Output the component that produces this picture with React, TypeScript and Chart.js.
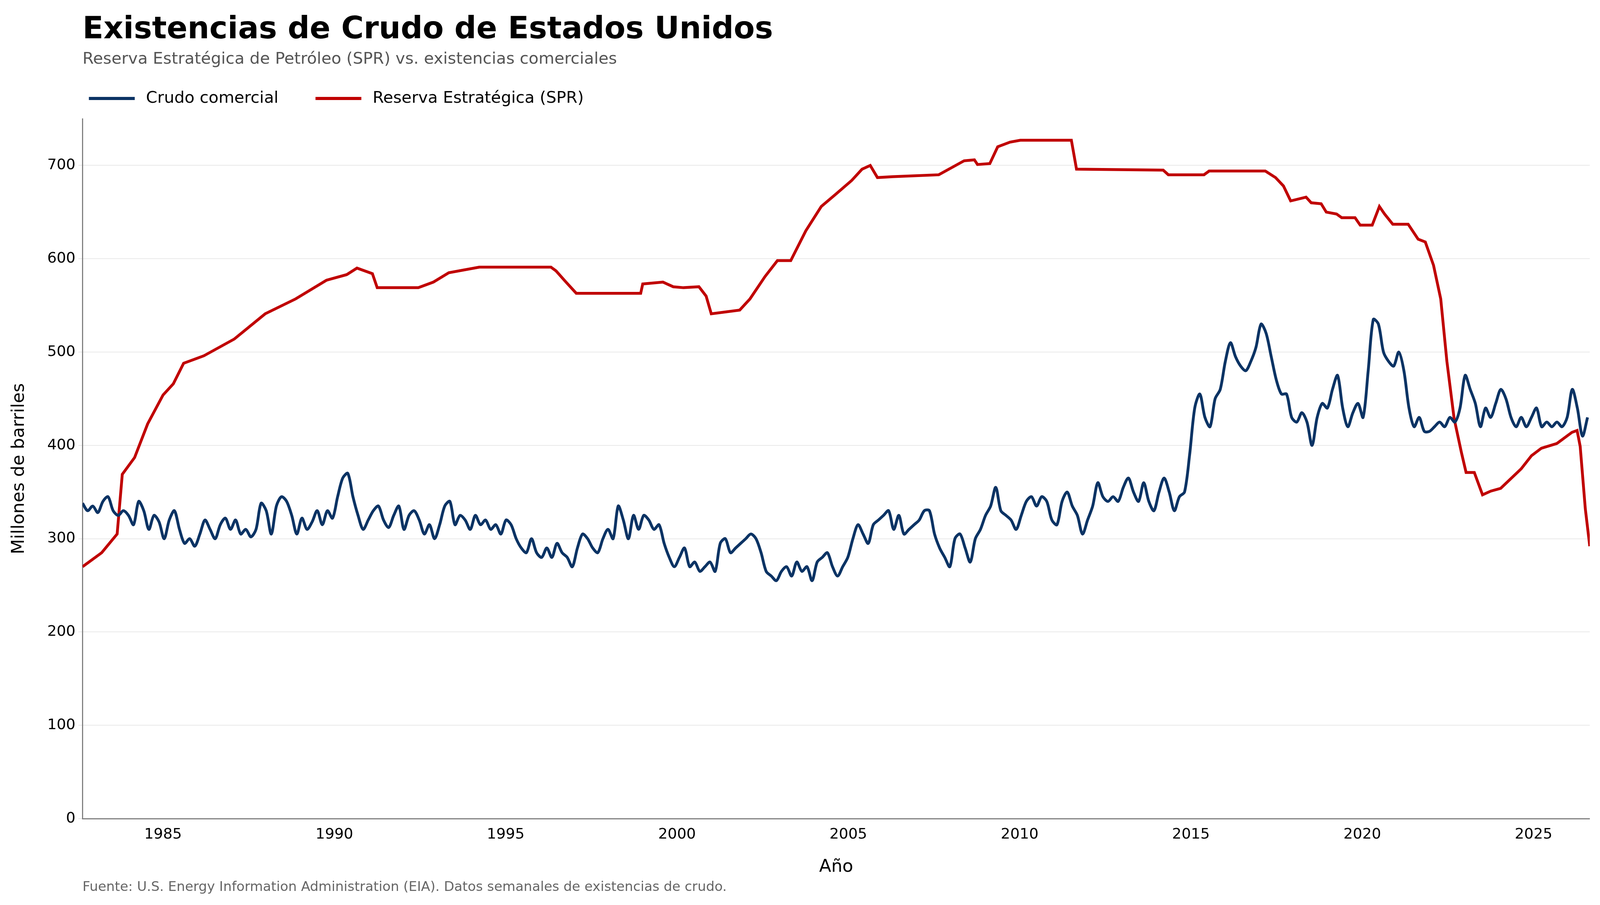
import React, { useEffect, useRef } from "react";
import { Chart, registerables } from "chart.js";
Chart.register(...registerables);

const TITLE = "Existencias de Crudo de Estados Unidos";
const SUBTITLE = "Reserva Estratégica de Petróleo (SPR) vs. existencias comerciales";
const SOURCE = "Fuente: U.S. Energy Information Administration (EIA). Datos semanales de existencias de crudo.";
const SERIES_NAMES = ["Crudo comercial", "Reserva Estratégica (SPR)"];
const X_TICKS = [1985, 1990, 1995, 2000, 2005, 2010, 2015, 2020, 2025];
const Y_TICKS = [0, 100, 200, 300, 400, 500, 600, 700];

const sprYears = [1982.65,1983.21,1983.66,1983.81,1984.17,1984.55,1985,1985.3,1985.6,1986.19,1987.08,1987.98,1988.87,1989.77,1990.36,1990.66,1991.11,1991.25,1992.45,1992.89,1993.34,1994.23,1996.32,1996.47,1996.76,1997.06,1998.94,1999.0,1999.59,1999.89,2000.19,2000.64,2000.85,2001.0,2001.83,2002.13,2002.57,2002.93,2003.32,2003.76,2004.21,2004.66,2005.1,2005.4,2005.64,2005.85,2006.3,2007.64,2008.38,2008.68,2008.77,2009.13,2009.36,2009.72,2010.02,2011.51,2011.66,2014.19,2014.34,2015.38,2015.53,2017.17,2017.47,2017.7,2017.91,2018.36,2018.51,2018.8,2018.95,2019.25,2019.4,2019.79,2019.94,2020.29,2020.5,2020.65,2020.89,2021.34,2021.63,2021.84,2022.08,2022.29,2022.47,2022.68,2022.89,2023.03,2023.27,2023.51,2023.75,2024.04,2024.64,2024.94,2025.23,2025.68,2026.12,2026.27,2026.36,2026.51,2026.64];
const sprValues = [270,285,305,369,387,423,454,466,488,496,514,541,557,577,583,590,584,569,569,575,585,591,591,587,575,563,563,573,575,570,569,570,560,541,545,557,581,598,598,630,656,670,684,696,700,687,688,690,705,706,701,702,720,725,727,727,696,695,690,690,694,694,687,678,662,666,660,659,650,648,644,644,636,636,656,648,637,637,621,618,593,557,490,429,393,371,371,347,351,354,375,389,397,402,414,416,399,332,292];

const commercialStart = 1982.65;
const commercialStep = 0.1489;
const commercialValues = [338,330,335,328,340,345,330,325,330,325,315,340,330,310,325,318,300,320,330,310,295,300,292,305,320,310,300,315,322,310,320,305,310,302,310,338,330,305,335,345,340,325,305,322,310,318,330,315,330,322,345,365,370,345,325,310,320,330,335,320,312,325,335,310,325,330,320,305,315,300,315,335,340,315,325,320,310,325,315,320,310,315,305,320,315,300,290,285,300,285,280,290,280,295,285,280,270,290,305,300,290,285,300,310,300,335,320,300,325,310,325,320,310,315,295,280,270,280,290,270,275,265,270,275,265,295,300,285,290,295,300,305,300,285,265,260,255,265,270,260,275,265,270,255,275,280,285,270,260,270,280,300,315,305,295,315,320,325,330,310,325,305,310,315,320,330,330,305,290,280,270,300,305,290,275,300,310,325,335,355,330,325,320,310,325,340,345,335,345,340,320,315,340,350,335,325,305,320,335,360,345,340,345,340,355,365,350,340,360,340,330,350,365,350,330,345,350,390,440,455,430,420,450,460,490,510,495,485,480,490,505,530,520,495,470,455,455,430,425,435,425,400,430,445,440,460,475,440,420,435,445,430,480,535,530,500,490,485,500,480,440,420,430,415,415,420,425,420,430,425,440,475,460,445,420,440,430,445,460,450,430,420,430,420,430,440,420,425,420,425,420,430,460,440,410,430];

const NAVY = "#0b3364";
const RED = "#c00000";

export default function App() {
  const ref = useRef<HTMLCanvasElement>(null);
  useEffect(() => {
    const W = window.innerWidth;
    const H = window.innerHeight;
    const k = W / 4536;
    const kh = H / 2316;
    const commercial = commercialValues.map((v, i) => ({ x: Math.min(commercialStart + i * commercialStep, 2026.64), y: v }));
    const spr = sprValues.map((v, i) => ({ x: sprYears[i], y: v }));
    const font = "'DejaVu Sans', sans-serif";
    const overlay = {
      id: "overlay",
      afterDraw(chart: any) {
        const c = chart.ctx;
        const L = chart.chartArea.left;
        c.save();
        c.textBaseline = "alphabetic";
        c.fillStyle = "#000";
        c.font = `bold ${87 * k}px ${font}`;
        c.fillText(TITLE, L, 98 * kh);
        c.fillStyle = "#555";
        c.font = `${46 * k}px ${font}`;
        c.fillText(SUBTITLE, L, 163 * kh);
        c.textBaseline = "middle";
        const legendY = 252 * kh;
        let x = L + 18 * k;
        [NAVY, RED].forEach((col, i) => {
          c.strokeStyle = col;
          c.lineWidth = 9 * k;
          c.beginPath();
          c.moveTo(x, legendY);
          c.lineTo(x + 130 * k, legendY);
          c.stroke();
          c.fillStyle = "#000";
          c.fillText(SERIES_NAMES[i], x + 162 * k, legendY);
          x += 162 * k + c.measureText(SERIES_NAMES[i]).width + 105 * k;
        });
        c.textBaseline = "alphabetic";
        c.fillStyle = "#666";
        c.font = `${38 * k}px ${font}`;
        c.fillText(SOURCE, L, 2280 * kh);
        c.restore();
      },
    };
    const chart = new Chart(ref.current!, {
      type: "line",
      data: {
        datasets: [
          { label: SERIES_NAMES[0], data: commercial, borderColor: NAVY, borderWidth: 8 * k, pointRadius: 0, tension: 0.3 },
          { label: SERIES_NAMES[1], data: spr, borderColor: RED, borderWidth: 8 * k, pointRadius: 0, tension: 0 },
        ],
      },
      options: {
        animation: false,
        responsive: true,
        maintainAspectRatio: false,
        layout: { padding: { top: 304 * kh, right: 29 * k, bottom: 66 * kh, left: 20 * k } },
        plugins: { legend: { display: false }, title: { display: false }, tooltip: { enabled: false } },
        scales: {
          x: {
            type: "linear",
            min: 1982.65,
            max: 2026.64,
            afterBuildTicks: (s: any) => { s.ticks = X_TICKS.map((v) => ({ value: v })); },
            afterFit: (s: any) => { s.height = 155 * kh; },
            grid: { display: false, tickLength: 12 * k },
            border: { color: "#777", width: 3 * k },
            ticks: { font: { size: 42 * k, family: font }, color: "#000", callback: (v: any) => String(v), padding: 8 * k },
            title: { display: true, text: "Año", font: { size: 50 * k, family: font }, color: "#000", padding: { top: 20 * k } },
          },
          y: {
            min: 0,
            max: 750,
            afterBuildTicks: (s: any) => { s.ticks = Y_TICKS.map((v) => ({ value: v })); },
            afterFit: (s: any) => { s.width = 214 * k; },
            grid: { color: "#e6e6e6", lineWidth: 2 * k, tickLength: 12 * k },
            border: { color: "#777", width: 3 * k },
            ticks: { font: { size: 42 * k, family: font }, color: "#000", padding: 8 * k },
            title: { display: true, text: "Millones de barriles", font: { size: 50 * k, family: font }, color: "#000" },
          },
        },
      },
      plugins: [overlay],
    } as any);
    return () => chart.destroy();
  }, []);
  return (
    <div style={{ position: "fixed", left: 0, top: 0, width: "100vw", height: "100vh", background: "#fff" }}>
      <canvas ref={ref} />
    </div>
  );
}
